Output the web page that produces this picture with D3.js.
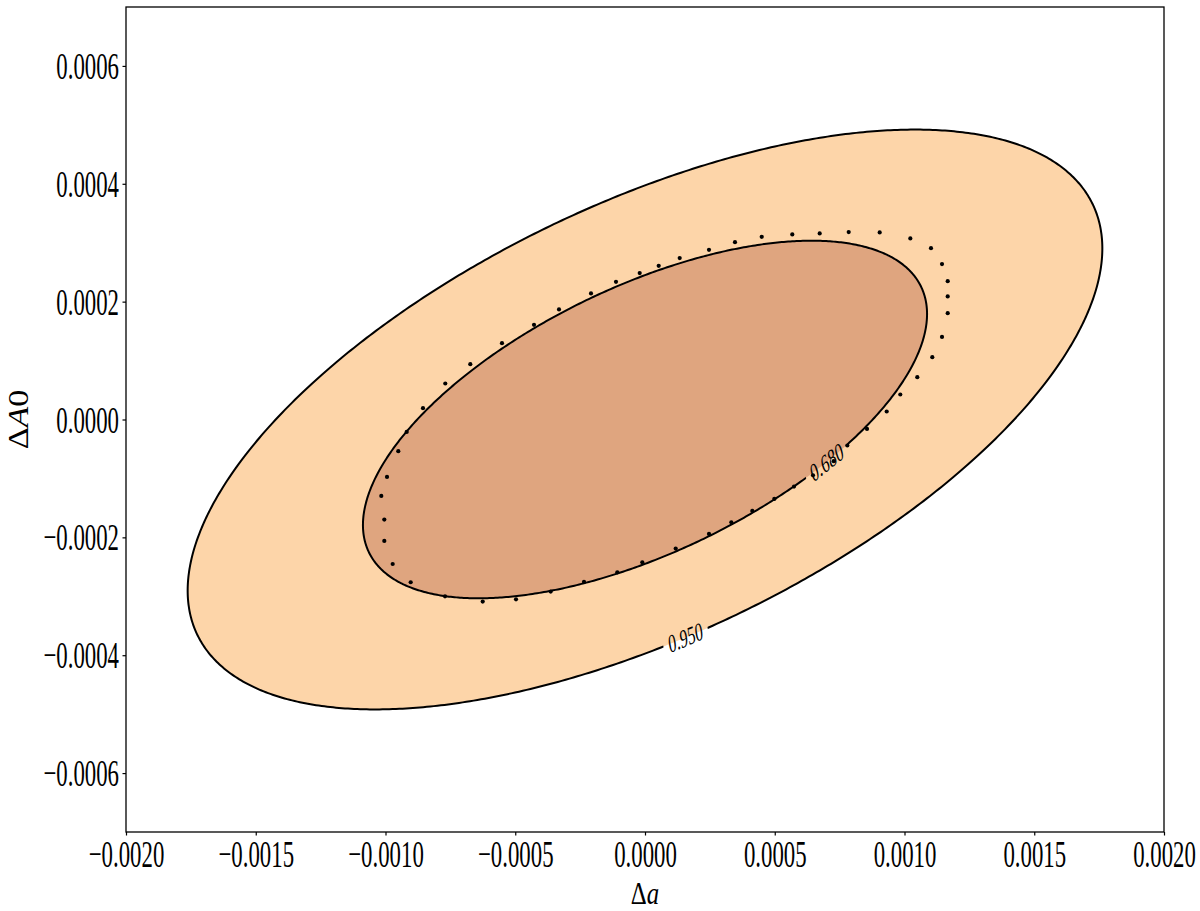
<!DOCTYPE html>
<html><head><meta charset="utf-8">
<script src="https://cdn.jsdelivr.net/npm/d3@7"></script>
<style>
body{margin:0;background:#fff}
text{font-family:"Liberation Serif","DejaVu Serif",serif;fill:#000}
</style>
</head><body>
<svg id="chart" width="1200" height="911"></svg>
<script>
// ---------- data ----------
const xDomain = [-0.002, 0.002];
const yDomain = [-0.0007, 0.0007];
const xTicks = [-0.002, -0.0015, -0.001, -0.0005, 0, 0.0005, 0.001, 0.0015, 0.002];
const yTicks = [-0.0006, -0.0004, -0.0002, 0, 0.0002, 0.0004, 0.0006];
const xLabel = ["Δ", "a"];
const yLabel = ["Δ", "A", "0"];

// Gaussian contour (confidence ellipses)
const ellipseCenter = [0, 0];
const ellipseSigma = [0.00072, 0.000201];
const ellipseRho = 0.59;
const contourLevels = [0.95, 0.68];
const contourLabels = ["0.950", "0.680"];
const contourFills = ["#fdd5a9", "#dfa57f"];

// scattered points
const pointsX = [-0.0010162,-0.0009942,-0.0009507,-0.0009183,-0.0008555,-0.0007696,-0.0006732,-0.0005511,-0.0004277,-0.0003314,
 -0.0002081,-0.0001118,-0.0000204,0.0000528,0.0001337,0.0002466,0.0003468,0.0004497,0.0005676,0.0006732,
 0.0007850,0.0009044,0.0010224,0.0011021,0.0011445,0.0011665,0.0011665,0.0011665,0.0011445,0.0011071,
 0.0010493,0.0009838,0.0009314,0.0008555,0.0007796,0.0007272,0.0006474,0.0005742,0.0004983,0.0004135,
 0.0003326,0.0002466,0.0001183,-0.0000104,-0.0001067,-0.0002351,-0.0003634,-0.0004971,-0.0006254,-0.0007707,
 -0.0009029,-0.0009723,-0.0010046,-0.0010046];
const pointsY = [-0.0001297,-0.0000975,-0.0000538,-0.0000211,0.0000192,0.0000611,0.0000939,0.0001295,0.0001606,0.0001868,
 0.0002139,0.0002336,0.0002484,0.0002608,0.0002739,0.0002879,0.0003010,0.0003100,0.0003141,0.0003158,
 0.0003180,0.0003175,0.0003073,0.0002908,0.0002637,0.0002348,0.0002088,0.0001805,0.0001402,0.0001058,
 0.0000718,0.0000424,0.0000136,-0.0000160,-0.0000441,-0.0000708,-0.0000946,-0.0001138,-0.0001348,-0.0001552,
 -0.0001744,-0.0001942,-0.0002190,-0.0002423,-0.0002593,-0.0002757,-0.0002920,-0.0003051,-0.0003090,-0.0003000,
 -0.0002762,-0.0002452,-0.0002061,-0.0001698];

// ---------- layout / style ----------
const W = 1200, H = 911;
const M = {left: 126, right: 1164, top: 7, bottom: 832};
const squeeze = 0.6;          // horizontal text compression of original figure
const labelT = [-1.482, -0.871]; // parameter along each contour where its label sits

const svg = d3.select("#chart");
const x = d3.scaleLinear().domain(xDomain).range([M.left, M.right]);
const y = d3.scaleLinear().domain(yDomain).range([M.bottom, M.top]);

function chi2r(p){ return Math.sqrt(-2 * Math.log(1 - p)); }
function ellPoint(p, t){
  const r = chi2r(p);
  const ex = ellipseCenter[0] + ellipseSigma[0] * r * Math.cos(t);
  const ey = ellipseCenter[1] + ellipseSigma[1] * r *
        (ellipseRho * Math.cos(t) + Math.sqrt(1 - ellipseRho * ellipseRho) * Math.sin(t));
  return [ex, ey];
}
const N = 720;
const line = d3.line().x(d => x(d[0])).y(d => y(d[1])).curve(d3.curveLinearClosed);
const contourData = contourLevels.map((p, i) => ({
  p, label: contourLabels[i], fill: contourFills[i], tl: labelT[i],
  pts: d3.range(N).map(k => ellPoint(p, 2 * Math.PI * k / N))
}));

// clip
const defs = svg.append("defs");
defs.append("clipPath").attr("id", "plotclip").append("rect")
  .attr("x", M.left).attr("y", M.top).attr("width", M.right - M.left).attr("height", M.bottom - M.top);

// label geometry
contourData.forEach(d => {
  const a = ellPoint(d.p, d.tl), b = ellPoint(d.p, d.tl + 0.001);
  const px = x(a[0]), py = y(a[1]);
  const dx = x(b[0]) - px, dy = y(b[1]) - py;
  let ths = Math.atan2(dy, dx);
  if (Math.cos(ths) < 0) ths += Math.PI;
  const th0 = Math.atan2(Math.sin(ths), Math.cos(ths) / squeeze);
  d.transform = `translate(${px},${py}) scale(${squeeze},1) rotate(${th0 * 180 / Math.PI})`;
});

const mask = defs.append("mask").attr("id", "labelmask").attr("maskUnits", "userSpaceOnUse")
  .attr("x", 0).attr("y", 0).attr("width", W).attr("height", H);
mask.append("rect").attr("x", 0).attr("y", 0).attr("width", W).attr("height", H).attr("fill", "#fff");
mask.selectAll("rect.lab").data(contourData).join("rect").attr("class", "lab")
  .attr("transform", d => d.transform)
  .attr("x", -38).attr("y", -11).attr("width", 76).attr("height", 22).attr("fill", "#000");

const plot = svg.append("g").attr("clip-path", "url(#plotclip)");
plot.selectAll("path.fill").data(contourData).join("path").attr("class", "fill")
  .attr("d", d => line(d.pts)).attr("fill", d => d.fill).attr("stroke", "none");
plot.append("g").attr("mask", "url(#labelmask)")
  .selectAll("path.cl").data(contourData).join("path").attr("class", "cl")
  .attr("d", d => line(d.pts)).attr("fill", "none").attr("stroke", "#000").attr("stroke-width", 2);
plot.selectAll("text.clab").data(contourData).join("text").attr("class", "clab")
  .attr("transform", d => d.transform)
  .attr("text-anchor", "middle").attr("dy", "0.34em")
  .attr("font-size", 26).text(d => d.label);

plot.selectAll("circle.pt").data(pointsX.map((v, i) => [v, pointsY[i]])).join("circle")
  .attr("class", "pt").attr("cx", d => x(d[0])).attr("cy", d => y(d[1]))
  .attr("r", 2.1).attr("fill", "#000");

// axes
const fmt = d3.format(".4f");
const gx = svg.append("g").attr("transform", `translate(0,${M.bottom})`)
  .call(d3.axisBottom(x).tickValues(xTicks).tickSize(3.5).tickSizeOuter(0).tickFormat(fmt));
gx.select(".domain").remove();
gx.selectAll(".tick line").attr("stroke", "#000").attr("stroke-width", 1.2);
gx.selectAll(".tick text").attr("y", 35).attr("dy", 0)
  .attr("font-size", 38).attr("font-family", "Liberation Serif, serif").attr("fill", "#000")
  .attr("transform", `scale(${squeeze},1)`);

const gy = svg.append("g").attr("transform", `translate(${M.left},0)`)
  .call(d3.axisLeft(y).tickValues(yTicks).tickSize(3.5).tickSizeOuter(0).tickFormat(fmt));
gy.select(".domain").remove();
gy.selectAll(".tick line").attr("stroke", "#000").attr("stroke-width", 1.2);
gy.selectAll(".tick text").attr("x", -7 / squeeze).attr("dy", "0.33em")
  .attr("font-size", 38).attr("font-family", "Liberation Serif, serif").attr("fill", "#000")
  .attr("transform", `scale(${squeeze},1)`);

// frame
svg.append("rect").attr("x", M.left).attr("y", M.top)
  .attr("width", M.right - M.left).attr("height", M.bottom - M.top)
  .attr("fill", "none").attr("stroke", "#000").attr("stroke-width", 1.3);

// axis labels
const xl = svg.append("text").attr("transform", `translate(${(M.left + M.right) / 2},904) scale(0.8,1)`)
  .attr("text-anchor", "middle").attr("font-size", 31);
xl.append("tspan").text(xLabel[0]);
xl.append("tspan").attr("font-style", "italic").text(xLabel[1]);

const yl = svg.append("text").attr("transform", `translate(28,${(M.top + M.bottom) / 2}) scale(0.85,1) rotate(-90)`)
  .attr("text-anchor", "middle").attr("font-size", 34);
yl.append("tspan").text(yLabel[0]);
yl.append("tspan").attr("font-style", "italic").text(yLabel[1]);
yl.append("tspan").text(yLabel[2]);
</script>
</body></html>
